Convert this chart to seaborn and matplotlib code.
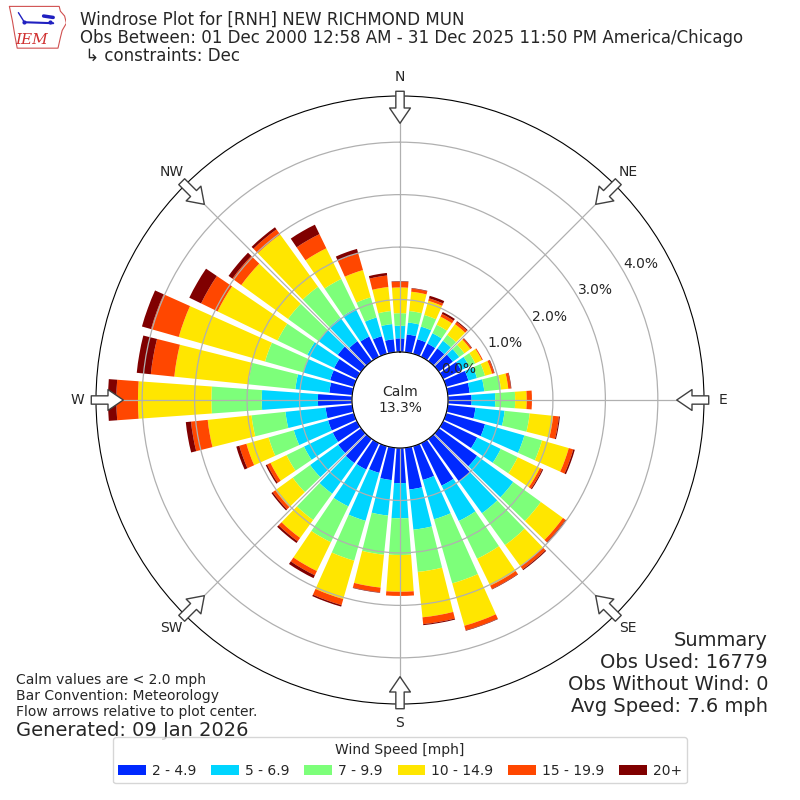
import numpy as np
import matplotlib
matplotlib.use("Agg")
import matplotlib.pyplot as plt
import seaborn as sns

# Wind directions (degrees, meteorological "from" convention), 10 degree bins
directions = np.arange(0, 360, 10)

speed_labels = ["2 - 4.9", "5 - 6.9", "7 - 9.9", "10 - 14.9", "15 - 19.9", "20+"]

# Frequency (% of obs) per direction for each speed bin
pct_2_5 = [0.26, 0.34, 0.29, 0.28, 0.30, 0.33, 0.38, 0.44, 0.42, 0.45,
           0.53, 0.77, 0.72, 0.90, 1.00, 0.90, 0.67, 0.80, 0.67, 0.62,
           0.53, 0.56, 0.57, 0.54, 0.51, 0.51, 0.51, 0.65, 0.44, 0.47,
           0.48, 0.55, 0.47, 0.43, 0.35, 0.25]
pct_5_7 = [0.24, 0.23, 0.25, 0.22, 0.18, 0.15, 0.17, 0.17, 0.28, 0.45,
           0.56, 0.78, 0.50, 0.85, 0.75, 0.75, 0.78, 0.77, 0.67, 0.68,
           0.95, 0.78, 0.72, 0.66, 0.61, 0.68, 0.77, 1.07, 0.65, 0.53,
           0.57, 0.45, 0.55, 0.59, 0.37, 0.29]
pct_7_10 = [0.24, 0.22, 0.23, 0.18, 0.14, 0.12, 0.13, 0.16, 0.32, 0.38,
            0.48, 0.35, 0.36, 0.65, 0.75, 0.80, 1.27, 0.81, 0.70, 0.75,
            0.79, 0.76, 0.62, 0.41, 0.37, 0.50, 0.65, 0.96, 0.90, 0.76,
            0.63, 0.72, 0.73, 0.63, 0.40, 0.25]
pct_10_15 = [0.49, 0.37, 0.28, 0.17, 0.25, 0.14, 0.14, 0.14, 0.14, 0.22,
             0.45, 0.53, 0.47, 0.52, 0.50, 0.57, 0.84, 0.87, 0.70, 0.63,
             0.76, 0.61, 0.42, 0.41, 0.34, 0.44, 0.84, 1.40, 1.42, 1.71,
             1.27, 1.10, 1.23, 0.65, 0.54, 0.46]
pct_15_20 = [0.11, 0.06, 0.05, 0.06, 0.05, 0.03, 0.02, 0.04, 0.05, 0.10,
             0.11, 0.09, 0.05, 0.06, 0.07, 0.07, 0.09, 0.13, 0.08, 0.09,
             0.12, 0.09, 0.08, 0.06, 0.07, 0.14, 0.32, 0.41, 0.45, 0.55,
             0.35, 0.21, 0.12, 0.30, 0.33, 0.22]
pct_20p = [0.01, 0.01, 0.05, 0.04, 0.02, 0.01, 0.00, 0.01, 0.01, 0.00,
           0.02, 0.03, 0.02, 0.02, 0.02, 0.01, 0.01, 0.02, 0.00, 0.01,
           0.03, 0.06, 0.04, 0.03, 0.03, 0.06, 0.10, 0.16, 0.27, 0.18,
           0.25, 0.09, 0.05, 0.20, 0.09, 0.05]

calm_pct = 13.3
r_ticks = [0, 1, 2, 3, 4]
compass = ["N", "NE", "E", "SE", "S", "SW", "W", "NW"]

title_lines = ["Windrose Plot for [RNH] NEW RICHMOND MUN",
               "Obs Between: 01 Dec 2000 12:58 AM - 31 Dec 2025 11:50 PM America/Chicago",
               " \u21b3 constraints: Dec"]
notes = ["Calm values are < 2.0 mph", "Bar Convention: Meteorology",
         "Flow arrows relative to plot center."]
summary = ["Summary", "Obs Used: 16779", "Obs Without Wind: 0", "Avg Speed: 7.6 mph"]

sns.set_style("white")
plt.rcParams["font.family"] = ["DejaVu Sans"]
plt.rcParams["axes.axisbelow"] = "line"  # grid drawn over the bars like the original

# jet colormap samples for the speed bins
colors = sns.color_palette([plt.cm.jet(i / 6) for i in range(1, 7)])

fig = plt.figure(figsize=(8, 8), dpi=100)
ax = fig.add_axes([0.12, 0.12, 0.76, 0.76], projection="polar")
ax.set_theta_zero_location("N")
ax.set_theta_direction(-1)

theta = np.deg2rad(directions)
width = np.deg2rad(10) * 0.82
bottom = np.zeros(len(directions))
for vals, col, lab in zip([pct_2_5, pct_5_7, pct_7_10, pct_10_15, pct_15_20, pct_20p],
                          colors, speed_labels):
    vals = np.array(vals)
    ax.bar(theta, vals, width=width, bottom=bottom, color=col, label=lab,
           linewidth=0, zorder=1)
    bottom = bottom + vals

# hole in the middle for the calm circle
ax.set_rorigin(-0.915)
ax.set_ylim(0, 4.88)
ax.set_rgrids(r_ticks, labels=["%.1f%%" % r for r in r_ticks], angle=60, fontsize=10)
ax.set_thetagrids(range(0, 360, 45), compass, fontsize=10)
ax.grid(True, color="#b0b0b0", linewidth=0.9)
ax.spines["polar"].set_color("black")
ax.spines["inner"].set_color("black")
ax.tick_params(axis="x", pad=3)

ax.text(0.5, 0.5, "Calm\n%.1f%%" % calm_pct, transform=ax.transAxes,
        ha="center", va="center", fontsize=10)

# hollow flow arrows at the compass points
for ang in range(0, 360, 45):
    ax.annotate("", xy=(np.deg2rad(ang), 4.36), xytext=(np.deg2rad(ang), 4.97),
                arrowprops=dict(arrowstyle="simple,head_length=0.55,head_width=0.75,tail_width=0.3",
                                fc="white", ec="#404040", lw=1, mutation_scale=20,
                                shrinkA=0, shrinkB=0),
                annotation_clip=False, zorder=5)

# header
for i, line in enumerate(title_lines):
    fig.text(0.1, 1 - (20 + 18 * i) / 800, line, fontsize=12, va="center", ha="left")

# small IEM logo
lax = fig.add_axes([0.008, 0.935, 0.075, 0.06])
lax.set_xlim(0, 1)
lax.set_ylim(0, 1)
lax.axis("off")
iowa_x = [0.05, 0.88, 0.9, 0.97, 1.0, 0.93, 0.9, 0.86, 0.18, 0.14, 0.1, 0.05]
iowa_y = [0.95, 0.95, 0.85, 0.75, 0.6, 0.45, 0.3, 0.08, 0.08, 0.35, 0.65, 0.95]
lax.plot(iowa_x, iowa_y, color="#d05050", lw=0.8)
lax.plot([0.3, 0.78], [0.62, 0.6], color="#2020c0", lw=1.5)
lax.plot([0.62, 0.78], [0.75, 0.72], color="#2020c0", lw=2.5)
lax.plot([0.2, 0.3], [0.82, 0.62], color="#2020c0", lw=1)
lax.plot([0.3, 0.72], [0.62, 0.62], "o", color="#2020c0", ms=2)
lax.text(0.42, 0.25, "IEM", color="#d03030", fontsize=11, family="serif",
         style="italic", ha="center", va="center")

# notes bottom left
for i, line in enumerate(notes):
    fig.text(0.02, 1 - (680 + 16 * i) / 800, line, fontsize=10, va="center")
fig.text(0.02, 1 - 730 / 800, "Generated: 09 Jan 2026", fontsize=14, va="center")

# summary bottom right
for i, line in enumerate(summary):
    fig.text(0.96, 1 - (640 + 22 * i) / 800, line, fontsize=14, ha="right", va="center")

handles, labels = ax.get_legend_handles_labels()
fig.legend(handles, labels, loc="lower center", bbox_to_anchor=(0.5, 0.012), ncol=6,
           title="Wind Speed [mph]", fontsize=10, title_fontsize=10,
           columnspacing=1.1, handletextpad=0.4)

fig.savefig("out.png", dpi=100)
